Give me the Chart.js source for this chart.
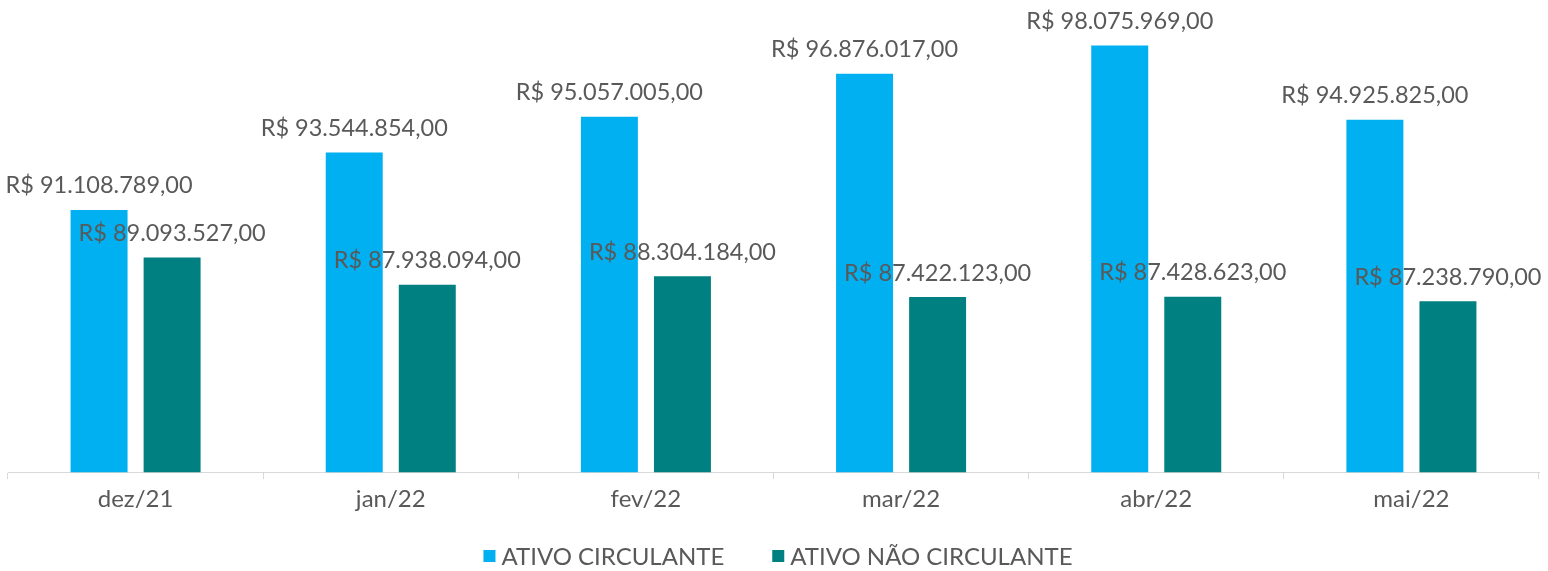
<!DOCTYPE html>
<html><head><meta charset="utf-8">
<script src="https://cdn.jsdelivr.net/npm/chart.js@4"></script>
<style>html,body{margin:0;padding:0;background:#fff;}#wrap{width:1548px;height:571px;}</style>
</head><body><div id="wrap"><canvas id="c" width="1548" height="571"></canvas></div>
<script>
const categories = ["dez/21","jan/22","fev/22","mar/22","abr/22","mai/22"];
const ativoCirculante = [91108789, 93544854, 95057005, 96876017, 98075969, 94925825];
const ativoNaoCirculante = [89093527, 87938094, 88304184, 87422123, 87428623, 87238790];
const seriesNames = ["ATIVO CIRCULANTE","ATIVO NÃO CIRCULANTE"];
const seriesColors = ["#00b0f0","#008080"];

const FONT = "Lato, 'Open Sans', sans-serif";
const TEXT = "#595959";

function fmt(v){
  const s = Math.round(v).toString().replace(/\B(?=(\d{3})+(?!\d))/g,".");
  return "R$ " + s + ",00";
}

const labelPlugin = {
  id:'valLabels',
  afterDatasetsDraw(chart){
    const ctx = chart.ctx;
    ctx.save();
    ctx.font = "23.5px " + FONT;
    ctx.fillStyle = TEXT;
    ctx.textAlign = "center";
    ctx.textBaseline = "middle";
    chart.data.datasets.forEach((ds,i)=>{
      const meta = chart.getDatasetMeta(i);
      meta.data.forEach((bar,j)=>{
        ctx.fillText(fmt(ds.data[j]), bar.x, bar.y - 24);
      });
    });
    ctx.restore();
  }
};

const legendPlugin = {
  id:'customLegend',
  afterDraw(chart){
    const ctx = chart.ctx;
    ctx.save();
    ctx.font = "24px " + FONT;
    ctx.textBaseline = "middle";
    ctx.textAlign = "left";
    const box = 12, gapBT = 6, gapItems = 48;
    const widths = seriesNames.map(n => ctx.measureText(n).width);
    const total = widths.reduce((a,w)=>a+box+gapBT+w,0) + gapItems*(seriesNames.length-1);
    let x = chart.width/2 + 4 - total/2;
    const cy = 556;
    seriesNames.forEach((n,i)=>{
      ctx.fillStyle = seriesColors[i];
      ctx.fillRect(x, cy-6, box, box);
      ctx.fillStyle = TEXT;
      ctx.fillText(n, x+box+gapBT, cy+1);
      x += box + gapBT + widths[i] + gapItems;
    });
    ctx.restore();
  }
};

new Chart(document.getElementById('c'),{
  type:'bar',
  data:{
    labels:categories,
    datasets:[
      {label:seriesNames[0], data:ativoCirculante, backgroundColor:seriesColors[0], categoryPercentage:0.5725, barPercentage:0.78},
      {label:seriesNames[1], data:ativoNaoCirculante, backgroundColor:seriesColors[1], categoryPercentage:0.5725, barPercentage:0.78}
    ]
  },
  options:{
    responsive:false,
    animation:false,
    layout:{padding:{left:8,right:9,top:0,bottom:51}},
    scales:{
      y:{display:false,min:80000000,max:100000000},
      x:{
        grid:{display:true,drawOnChartArea:false,drawTicks:true,tickLength:7,color:'#d9d9d9',offset:true},
        border:{display:true,color:'#d9d9d9',width:1},
        ticks:{color:TEXT,font:{family:FONT,size:24},padding:6}
      }
    },
    plugins:{
      legend:{display:false},
      tooltip:{enabled:false}
    }
  },
  plugins:[labelPlugin, legendPlugin]
});
</script></body></html>
